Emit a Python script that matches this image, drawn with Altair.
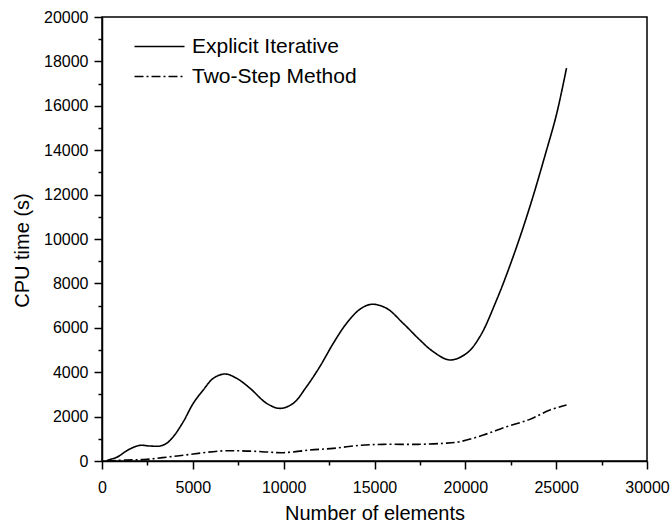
import altair as alt
import pandas as pd

# ---- data ----
series_names = ["Explicit Iterative", "Two-Step Method"]

explicit_x = [260, 347, 808, 1358, 1725, 2090, 2640, 3190, 3560, 3925, 4475, 5025,
              5575, 6125, 6770, 7410, 8150, 9060, 9800, 10530, 11260, 11990, 12730,
              13460, 14190, 14840, 15660, 16580, 17500, 18240, 19150, 20070, 20800,
              21720, 22630, 23550, 24470, 25030, 25570]
explicit_y = [0, 45, 165, 460, 615, 705, 675, 675, 800, 1095, 1770, 2600,
              3200, 3725, 3920, 3725, 3275, 2600, 2370, 2600, 3350, 4250, 5300,
              6200, 6830, 7060, 6880, 6200, 5450, 4920, 4550, 4850, 5600,
              7250, 9200, 11450, 14000, 15650, 17700]

twostep_x = [260, 1360, 2460, 3740, 5030, 6490, 7600, 8800, 9980, 11450, 12730,
             14200, 15480, 17320, 18790, 19700, 20990, 22270, 23550, 24660, 25570]
twostep_y = [0, 45, 75, 190, 315, 450, 460, 420, 375, 495, 570,
             705, 750, 750, 795, 870, 1170, 1545, 1875, 2300, 2520]

x_tick_values = list(range(0, 30001, 2500))
y_tick_values = list(range(0, 20001, 1000))

df = pd.concat([
    pd.DataFrame({"x": explicit_x, "y": explicit_y, "series": series_names[0]}),
    pd.DataFrame({"x": twostep_x, "y": twostep_y, "series": series_names[1]}),
], ignore_index=True)

FONT = "Liberation Sans"

x_axis = alt.Axis(
    values=x_tick_values,
    title="Number of elements",
    labelExpr="datum.value % 5000 === 0 ? '' + datum.value : ''",
    tickSize={"condition": {"test": "datum.value % 5000 === 0", "value": 8}, "value": 4},
    labelPadding=10,
    labelOverlap=False,
    labelFlush=False,
    titleY=42,
    titleBaseline="top",
    grid=False,
)

y_axis = alt.Axis(
    values=y_tick_values,
    title="CPU time (s)",
    labelExpr="datum.value % 2000 === 0 ? '' + datum.value : ''",
    tickSize={"condition": {"test": "datum.value % 2000 === 0", "value": 8}, "value": 4},
    labelPadding=6,
    labelOverlap=False,
    labelFlush=False,
    titleAngle=270,
    titleBaseline="middle",
    titleX=-80,
    titleY=233,
    grid=False,
)

legend = alt.Legend(
    title=None,
    orient="none",
    legendX=47,
    legendY=19,
    symbolType="M-5,0L5,0",
    symbolSize=100,
    symbolStrokeWidth=1.6,
    symbolStrokeColor="black",
    symbolFillColor="transparent",
    labelFont=FONT,
    labelFontSize=21,
    labelColor="black",
    labelOffset=22,
    labelLimit=400,
    rowPadding=8,
    padding=0,
)

chart = alt.Chart(df).mark_line(
    interpolate="catmull-rom", color="black", strokeWidth=1.6
).encode(
    x=alt.X("x:Q", scale=alt.Scale(domain=[0, 30000], nice=False), axis=x_axis),
    y=alt.Y("y:Q", scale=alt.Scale(domain=[0, 20000], nice=False), axis=y_axis),
    strokeDash=alt.StrokeDash(
        "series:N",
        scale=alt.Scale(domain=series_names, range=[[1, 0], [9, 3, 2, 3]]),
        legend=legend,
    ),
).properties(
    width=545,
    height=444,
    background="white",
    autosize=alt.AutoSizeParams(type="none"),
    padding={"left": 102, "top": 17, "right": 23, "bottom": 70},
).configure_view(
    stroke="black", strokeWidth=1.5
).configure_axis(
    domainColor="black",
    domainWidth=1.5,
    tickColor="black",
    tickWidth=1.5,
    labelFont=FONT,
    labelFontSize=16,
    labelColor="black",
    titleFont=FONT,
    titleFontSize=20,
    titleFontWeight="normal",
    titleColor="black",
)

chart.save("out.html", embed_options={"renderer": "svg", "actions": False})
